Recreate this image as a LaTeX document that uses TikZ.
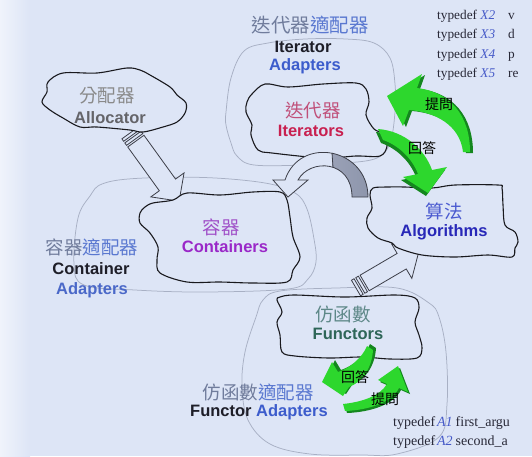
\documentclass[tikz,border=0pt]{standalone}
\usepackage{fontspec}
\setmainfont{Liberation Sans}
\newfontfamily\cjk{Noto Sans CJK TC}
\newfontfamily\tdserif{Liberation Serif}
\definecolor{bg}{RGB}{221,229,246}
\definecolor{cloudline}{RGB}{25,25,30}
\definecolor{adgray}{RGB}{168,176,196}
\definecolor{arrline}{RGB}{60,62,72}
\definecolor{arrgrayA}{RGB}{172,178,198}
\definecolor{arrgrayB}{RGB}{142,150,172}
\definecolor{gbright}{RGB}{45,215,45}
\definecolor{gdark}{RGB}{20,135,30}
\definecolor{tdtext}{RGB}{40,40,55}
\definecolor{xblue}{RGB}{70,90,200}
\definecolor{zhgray}{RGB}{112,124,156}
\definecolor{zhblue}{RGB}{90,120,208}
\definecolor{enblue}{RGB}{60,92,204}
\definecolor{enblack}{RGB}{30,30,40}
\newcommand\greenA[1]{\fill[#1] (470,152) .. controls (470,115) and (450,92) .. (417,88) -- (422,74) -- (387,96) -- (403,126) -- (409,110) .. controls (435,112) and (460,125) .. (463,152) -- cycle;}
\newcommand\greenB[1]{\fill[#1] (378,129) .. controls (405,131) and (425,150) .. (432,170) -- (447,167) -- (428,193) -- (403,177) -- (418,174) .. controls (412,158) and (398,145) .. (383,140) -- cycle;}
\newcommand\greenC[1]{\fill[#1] (367,346) -- (373,350) .. controls (372,368) and (362,382) .. (349,387) -- (343,396) -- (322,382) -- (332,362) -- (338,372) .. controls (350,368) and (362,358) .. (367,346) -- cycle;}
\newcommand\greenD[1]{\fill[#1] (343,404) .. controls (362,402) and (380,396) .. (387,384) -- (378,380) -- (398,366) -- (408,392) -- (399,388) .. controls (392,402) and (370,410) .. (345,411) -- cycle;}
\newcommand\curvedpath{(352,197) -- (368,197) .. controls (368,148) and (300,135) .. (285,180) -- (273,180) -- (288,197) -- (308,180) -- (298,180) .. controls (310,158) and (352,160) .. (352,197) -- cycle}
\begin{document}
\begin{tikzpicture}[x=1pt,y=-1pt,
  cloud/.style={draw=cloudline, line width=1.1pt, fill=bg, line join=round},
  adapt/.style={draw=adgray, line width=0.75pt},
  blk/.style={draw=arrline, line width=0.8pt, fill=bg, line join=miter},
  zh/.style={font=\cjk\fontsize{18.5}{20}\selectfont, inner sep=0pt},
  en/.style={font=\bfseries\fontsize{16.5}{18}\selectfont, inner sep=0pt},
  lbl/.style={font=\cjk\fontsize{14}{15}\selectfont, inner sep=0pt, text=black},
  td/.style={font=\tdserif\fontsize{13.3}{15}\selectfont, inner sep=0pt, anchor=base west, text=tdtext},
  tdb/.style={font=\tdserif\fontsize{14}{15}\selectfont, inner sep=0pt, anchor=base west, text=tdtext},
]
\useasboundingbox (0,0) rectangle (532,456);
\clip (0,0) rectangle (532,456);
\fill[bg] (0,0) rectangle (532,456);
\shade[left color=white!55!bg, right color=bg] (0,0) rectangle (30,456);

% adapter outlines (thin gray)
\draw[adapt] plot[smooth cycle, tension=0.6] coordinates {(226,112) (231,78) (244,51) (268,43) (305,39) (346,39) (374,43) (390,58) (395,84) (395,112) (390,143) (377,158) (346,163) (305,165) (254,165) (237,156) (231,143) (226,125)};
\draw[adapt] plot[smooth cycle, tension=0.6] coordinates {(78,218) (90,196) (102,184) (135,178.5) (204,177.5) (265,183) (295,193) (307,209) (314,239) (316,262) (308,279) (288,289) (204,292) (135,290) (84,285) (74,264)};
\draw[adapt] plot[smooth cycle, tension=0.6] coordinates {(256,317) (263,300) (280,291) (336,288) (397,288) (429,303) (439,317) (446,352) (447,404) (439,437) (397,454) (362,455) (310,454) (270,444) (248,420) (242,386) (245,352)};

% block arrow: Allocator -> Containers
\begin{scope}[shift={(130,133)}, rotate=-54.2]
  \filldraw[blk] (0,-10) rectangle (3,10);
  \filldraw[blk] (5,-10) rectangle (8,10);
  \filldraw[blk] (10,-10) -- (64,-10) -- (64,-20.5) -- (84,0) -- (64,20.5) -- (64,10) -- (10,10) -- cycle;
\end{scope}
% block arrow: Functors -> Algorithms
\begin{scope}[shift={(356,288)}, rotate=30.4]
  \filldraw[blk] (0,-9) rectangle (3,9);
  \filldraw[blk] (5,-9) rectangle (8,9);
  \filldraw[blk] (10,-9) -- (53,-9) -- (53,-20) -- (73,0) -- (53,20) -- (53,9) -- (10,9) -- cycle;
\end{scope}

% clouds
\draw[cloud] plot[smooth cycle, tension=0.55] coordinates {(48,82) (63,73) (97,73) (127,68) (140,70) (150,75) (170,87) (177,95) (186,103) (185,113) (177,122) (163,127) (143,132) (130,130) (97,127) (80,127) (63,118) (50,110) (42,102) (47,92)};
\draw[cloud] plot[smooth cycle, tension=0.55] coordinates {(247,102) (252,94) (265,84) (288,87) (323,84) (356,83) (366,89) (369,102) (366,115) (374,129) (384,134) (387,146) (380,156) (356,156) (323,158) (272,153) (258,150) (251,135) (252,125) (246,112)};
\draw[cloud] plot[smooth cycle, tension=0.55] coordinates {(140,213) (145,207) (153,203) (173,200) (187,193) (220,195) (253,192) (280,192) (287,200) (290,217) (293,237) (300,257) (293,270) (287,282) (253,283) (220,282) (187,282) (160,273) (157,260) (158,247) (150,233) (140,223)};
\draw[cloud] plot[smooth cycle, tension=0.55] coordinates {(370,195) (373,188) (388,187) (405,187) (432,188) (455,185) (498,185) (502,188) (503,205) (505,225) (515,232) (518,242) (515,248) (512,257) (488,255) (455,257) (422,255) (398,248) (392,243) (378,238) (368,228) (367,218) (372,208)};
\draw[cloud] plot[smooth cycle, tension=0.55] coordinates {(277,300) (280,297) (295,295) (345,297) (395,295) (415,298) (419,308) (415,322) (419,335) (422,348) (417,358) (390,359) (362,357) (329,358) (295,356) (282,352) (280,335) (277,322) (282,312)};

% curved gray arrow: Iterators -> Containers
\fill[bg] \curvedpath;
\begin{scope}
  \clip (332,140) rectangle (380,200);
  \shade[left color=arrgrayA, right color=arrgrayB] \curvedpath;
\end{scope}
\draw[arrline, line width=0.8pt, line join=miter] \curvedpath;
\draw[arrline, line width=0.8pt] (332,153) -- (333,167);

% green arrows
\greenA{gdark, shift={(3,1)}}
\greenA{gbright}
\greenB{gdark, shift={(-2,3)}}
\greenB{gbright}
\greenC{gdark, shift={(3,-2)}}
\greenC{gbright}
\greenD{gdark, shift={(2,2)}}
\greenD{gbright}

% texts
\node[zh, text={rgb,255:red,138;green,138;blue,138}] (allocZh) at (107,96) {分配器};
\node[en, text={rgb,255:red,100;green,100;blue,105}] (allocEn) at (110,118) {Allocator};

\node[zh, font=\cjk\fontsize{19.5}{21}\selectfont] (itadZh) at (310,25.5) {\textcolor{zhgray}{迭代器}\textcolor{zhblue}{適配器}};
\node[en, text=enblack] (itadEn1) at (303,47) {Iterator};
\node[en, text=enblue] (itadEn2) at (305,66) {Adapters};

\node[zh, text={rgb,255:red,192;green,80;blue,122}] (iterZh) at (313,110) {迭代器};
\node[en, text={rgb,255:red,200;green,32;blue,80}] (iterEn) at (311,131) {Iterators};

\node[zh, text={rgb,255:red,160;green,80;blue,200}] (contZh) at (221,227) {容器};
\node[en, text={rgb,255:red,154;green,40;blue,200}] (contEn) at (225,247) {Containers};

\node[zh] (coadZh) at (92,247) {\textcolor{zhgray}{容器}\textcolor{zhblue}{適配器}};
\node[en, text=enblack] (coadEn1) at (91,269) {Container};
\node[en, text={rgb,255:red,74;green,104;blue,200}] (coadEn2) at (92,290) {Adapters};

\node[zh, text={rgb,255:red,74;green,90;blue,208}] (algoZh) at (444,211) {算法};
\node[en, text={rgb,255:red,40;green,40;blue,184}] (algoEn) at (444,232) {Algorithms};

\node[zh, text={rgb,255:red,94;green,136;blue,136}] (funcZh) at (343,314) {仿函數};
\node[en, text={rgb,255:red,46;green,102;blue,88}] (funcEn) at (348,334) {Functors};

\node[zh] (fuadZh) at (258,392) {\textcolor{zhgray}{仿函數}\textcolor{zhblue}{適配器}};
\node[en] (fuadEn) at (259,412) {\textcolor{enblack}{Functor} \textcolor{enblue}{Adapters}};

\node[lbl] (ask1) at (439,104) {提問};
\node[lbl] (ans1) at (422,148) {回答};
\node[lbl] (ans2) at (355,377) {回答};
\node[lbl] (ask2) at (385,399) {提問};

% typedef lines
\node[td] (td2) at (437,19) {\makebox[71pt][l]{typedef \textit{\textcolor{xblue}{X2}}}v};
\node[td] (td3) at (437,38.5) {\makebox[71pt][l]{typedef \textit{\textcolor{xblue}{X3}}}d};
\node[td] (td4) at (437,58) {\makebox[71pt][l]{typedef \textit{\textcolor{xblue}{X4}}}p};
\node[td] (td5) at (437,77.5) {\makebox[71pt][l]{typedef \textit{\textcolor{xblue}{X5}}}re};
\node[tdb] (ta1) at (393,426) {typedef\hspace{2pt}\textit{\textcolor{xblue}{A1}}\hspace{3pt}first\_argu};
\node[tdb] (ta2) at (393,445) {typedef\hspace{2pt}\textit{\textcolor{xblue}{A2}}\hspace{3pt}second\_a};
\end{tikzpicture}
\end{document}
